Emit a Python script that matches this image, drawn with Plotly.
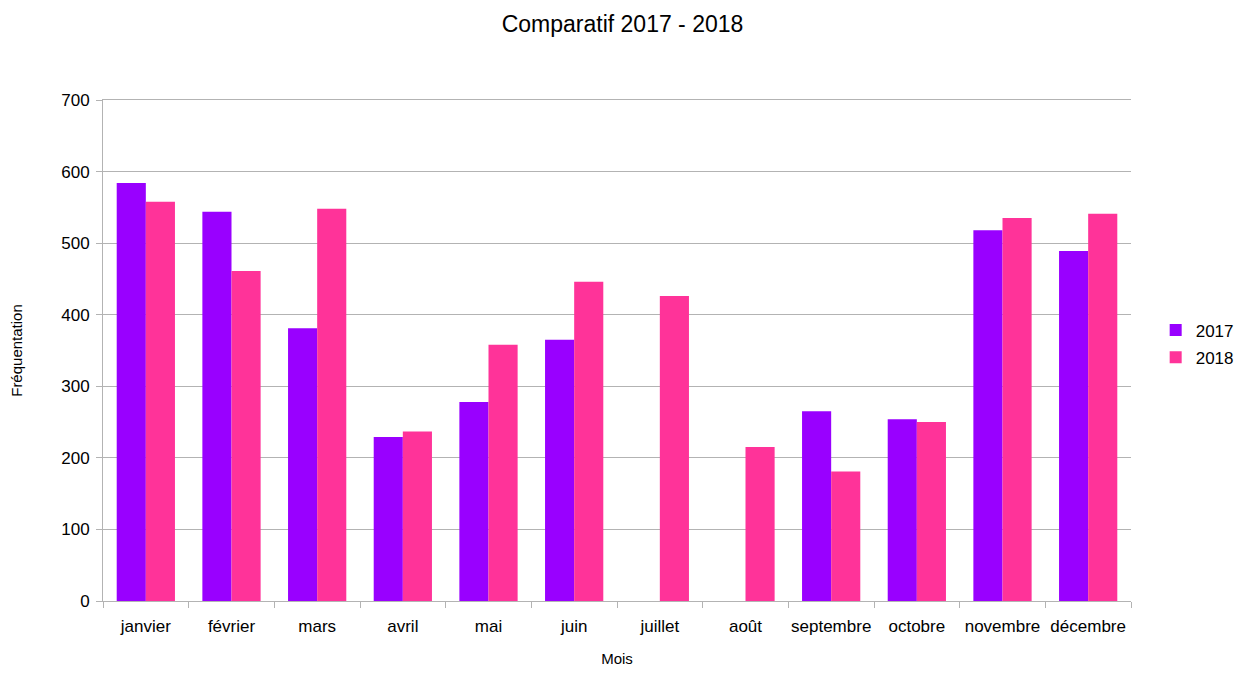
import plotly.graph_objects as go

mois = ["janvier", "février", "mars", "avril", "mai", "juin", "juillet", "août",
        "septembre", "octobre", "novembre", "décembre"]
v2017 = [584, 544, 381, 229, 278, 365, None, None, 265, 254, 518, 489]
v2018 = [558, 461, 548, 237, 358, 446, 426, 215, 181, 250, 535, 541]

fig = go.Figure()
fig.add_trace(go.Bar(name="2017", x=mois, y=v2017, legendgroup="a",
                     marker=dict(color="#9900ff", line=dict(width=0))))
fig.add_trace(go.Bar(name="2018", x=mois, y=v2018, legendgroup="b",
                     marker=dict(color="#ff3399", line=dict(width=0))))

font = "Liberation Sans, Arial, sans-serif"
fig.update_layout(
    width=1229, height=659,
    barmode="group", bargap=0.32, bargroupgap=0,
    plot_bgcolor="white", paper_bgcolor="white",
    font=dict(family=font, color="#000000", size=17),
    title=dict(text="Comparatif 2017 - 2018", x=0.5, xanchor="center", y=0.976, yanchor="middle",
               font=dict(size=23, family=font, color="#000")),
    margin=dict(l=95, r=106, t=92, b=66, autoexpand=False),
    legend=dict(x=1.024, y=0.513, xanchor="left", yanchor="middle", font=dict(size=17),
                itemwidth=30, tracegroupgap=2, traceorder="grouped"),
    xaxis=dict(title=dict(text="Mois", font=dict(size=15), standoff=42),
               showline=True, linecolor="#b3b3b3", mirror=True, automargin=False,
               ticks="outside", tickson="boundaries", ticklen=6, tickcolor="#b3b3b3",
               ticklabelstandoff=10,
               tickangle=0, tickfont=dict(size=17), showgrid=False),
    yaxis=dict(title=dict(text="Fréquentation", font=dict(size=15), standoff=43),
               range=[0, 700], dtick=100, showline=True, linecolor="#b3b3b3", automargin=False,
               ticks="outside", ticklen=6, tickcolor="#b3b3b3", ticklabelstandoff=3,
               gridcolor="#b3b3b3", gridwidth=1, zeroline=False,
               tickfont=dict(size=17)),
)
fig.write_html("out.html")
